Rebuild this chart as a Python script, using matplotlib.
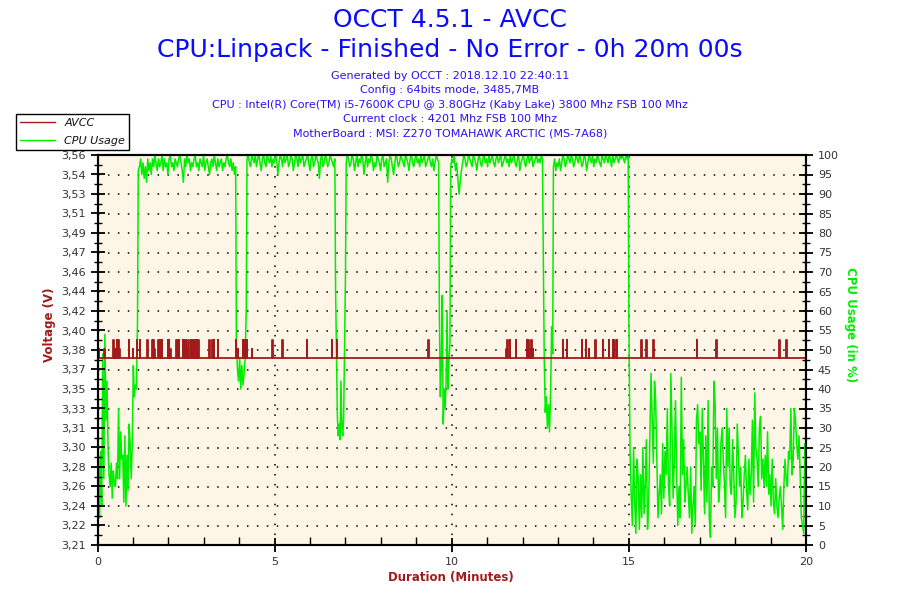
import numpy as np
import matplotlib.pyplot as plt
from matplotlib.lines import Line2D

# CPU usage (%), split into phases of the run
cpu_idle_start = [7, 23, 7, 24, 10, 49, 17, 54, 32, 42, 25, 18, 15, 21, 12, 19, 16, 15, 21, 17,
                  35, 17, 29, 22, 23, 11, 28, 10, 23, 14, 31, 26, 17, 26, 46, 38, 41, 40, 58]
cpu_load1 = [96, 97, 99, 95, 98, 94, 97, 93, 99, 96, 98, 95, 99, 97, 100, 98, 96, 99, 97, 98,
             100, 96, 99, 97, 98, 95, 99, 100, 97, 98, 96, 99, 98, 97, 99, 100, 98, 96, 93, 99,
             97, 100, 98, 99, 96, 98, 97, 99, 100, 97, 98, 96, 99, 98, 97, 100, 96, 98, 99, 97,
             95, 98, 99, 97, 100, 98, 96, 99, 97, 98, 99, 96, 98, 97, 99, 100, 98, 97, 99, 96,
             98, 95, 97]
cpu_dip1 = [52, 45, 42, 48, 40, 46, 41, 44, 48, 61]
cpu_load2 = [99, 100, 98, 97, 100, 99, 98, 100, 97, 99, 100, 98, 96, 99, 100, 98, 97, 100, 99, 98,
             100, 97, 99, 98, 100, 99, 95, 98, 100, 99, 97, 100, 98, 99, 100, 97, 98, 100, 99, 96,
             98, 100, 99, 97, 100, 98, 99, 100, 97, 98, 99, 100, 98, 96, 99, 100, 97, 98, 100, 99,
             98, 94, 99, 100, 97, 98, 100, 99, 97, 98, 100, 99, 98, 97, 99]
cpu_dip2 = [66, 49, 33, 28, 31, 27, 42, 30, 28, 33, 52, 69]
cpu_load3 = [98, 100, 99, 97, 98, 100, 99, 96, 98, 100, 97, 99, 98, 100, 99, 95, 98, 100, 97, 99,
             98, 100, 99, 96, 98, 97, 100, 99, 98, 96, 99, 100, 97, 98, 99, 93, 98, 100, 99, 97,
             95, 98, 100, 99, 97, 98, 100, 99, 98, 97, 100, 99, 98, 96, 99, 100, 98, 97, 99, 100,
             98, 99, 97, 100, 98, 99, 100, 97, 98, 99, 100, 98, 97, 99, 96, 98, 100, 99, 98]
cpu_dip3 = [60, 38, 45, 64, 31, 40, 35, 42, 60, 40, 47, 52]
cpu_load4 = [97, 99, 98, 100, 96, 98, 94, 90, 93, 96, 98, 100, 99, 97, 98, 100, 99, 98, 97, 100,
             99, 98, 96, 99, 100, 98, 97, 99, 100, 98, 99, 97, 100, 98, 99, 100, 98, 97, 99, 100,
             98, 99, 100, 97, 98, 99, 100, 98, 99, 97, 100, 98, 99, 100, 98, 97, 99, 100, 96, 98,
             99, 100, 98, 97, 99, 100, 98, 99, 100, 97, 98, 99, 100, 98, 99, 98, 100, 99]
cpu_dip4 = [79, 48, 34, 38, 30, 36, 29, 39, 56, 49]
cpu_load5 = [97, 99, 96, 98, 97, 99, 96, 98, 100, 99, 97, 98, 100, 99, 98, 100, 99, 97, 98, 100,
             99, 98, 100, 99, 97, 98, 100, 99, 96, 98, 100, 99, 98, 100, 97, 99, 98, 100, 99, 98,
             97, 100, 99, 98, 100, 99, 98, 100, 99, 97, 100, 98, 99, 100, 99, 98, 100, 99, 100, 99,
             98, 100, 99, 100]
cpu_idle_end = [58,
                24, 13, 5, 25, 11, 3, 22, 17, 4, 18,
                7, 25, 8, 15, 27, 4, 11, 27, 44, 32,
                21, 42, 37, 22, 7, 13, 18, 8, 26, 12,
                24, 18, 35, 15, 10, 44, 30, 12, 22, 37,
                18, 5, 15, 7, 43, 18, 27, 11, 15, 20,
                13, 7, 20, 3, 10, 15, 5, 32, 36, 26,
                29, 14, 35, 22, 8, 28, 11, 37, 7, 2,
                20, 15, 42, 36, 17, 30, 11, 15, 26, 30,
                22, 16, 7, 35, 20, 30, 15, 13, 27, 18,
                7, 11, 31, 23, 15, 20, 7, 11, 18, 23,
                14, 9, 22, 13, 18, 32, 11, 39, 25, 22,
                15, 30, 33, 17, 22, 15, 23, 15, 29, 13,
                18, 10, 22, 11, 8, 17, 10, 7, 12, 15,
                10, 4, 15, 22, 17, 15, 24, 22, 35, 18,
                22, 35, 32, 26, 22, 28, 18, 7, 5, 3, 26, 22]

cpu_segments = [cpu_idle_start, cpu_load1, cpu_dip1, cpu_load2, cpu_dip2, cpu_load3,
                cpu_dip3, cpu_load4, cpu_dip4, cpu_load5, cpu_idle_end]
# start / end time (minutes) of each phase
seg_start = [0.0, 1.15, 3.92, 4.22, 6.72, 7.02, 9.65, 9.97, 12.58, 12.87, 15.0]
seg_end = [1.13, 3.90, 4.20, 6.70, 7.00, 9.63, 9.95, 12.56, 12.85, 14.98, 20.0]

# AVCC: steady reading plus short spikes (time in minutes, voltage)
avcc_base = 3.378
spike_times = [0.04, 0.19, 0.45, 0.49, 0.54, 0.59, 0.61, 0.88, 0.99, 1.11, 1.20, 1.40, 1.55, 1.57,
               1.60, 1.72, 1.76, 1.81, 1.98, 2.02, 2.05, 2.23, 2.27, 2.30, 2.40, 2.45, 2.49, 2.53,
               2.56, 2.63, 2.66, 2.70, 2.75, 2.80, 2.84, 3.15, 3.24, 3.28, 3.40, 3.90, 3.96, 4.10,
               4.15, 4.21, 4.35, 4.94, 5.22, 5.90, 6.61, 6.76, 9.34, 11.54, 11.57, 11.64, 11.81,
               12.12, 12.16, 12.20, 12.25, 12.29, 13.13, 13.24, 13.67, 13.78, 13.87, 14.05, 14.27,
               14.43, 14.55, 14.59, 14.66, 15.35, 15.49, 15.69, 16.92, 17.47, 19.25, 19.44]
spike_volts = [3.386, 3.386, 3.394, 3.386, 3.394, 3.394, 3.386, 3.394, 3.386, 3.394, 3.394, 3.394,
               3.394, 3.394, 3.386, 3.394, 3.394, 3.394, 3.394, 3.394, 3.386, 3.394, 3.394, 3.394,
               3.394, 3.394, 3.394, 3.386, 3.394, 3.394, 3.394, 3.394, 3.394, 3.394, 3.394, 3.394,
               3.394, 3.394, 3.394, 3.394, 3.386, 3.394, 3.394, 3.394, 3.386, 3.394, 3.394, 3.394,
               3.394, 3.394, 3.394, 3.386, 3.394, 3.394, 3.394, 3.394, 3.394, 3.386, 3.394, 3.386,
               3.394, 3.394, 3.394, 3.394, 3.386, 3.394, 3.394, 3.394, 3.394, 3.394, 3.394, 3.394,
               3.394, 3.394, 3.394, 3.394, 3.394, 3.394]
spike_width = 0.012

volt_labels = ['3,21', '3,22', '3,24', '3,26', '3,28', '3,30', '3,31', '3,33', '3,35', '3,37',
               '3,38', '3,40', '3,42', '3,44', '3,46', '3,47', '3,49', '3,51', '3,53', '3,54', '3,56']
volt_min, volt_max = 3.21, 3.56

header_lines = ['Generated by OCCT : 2018.12.10 22:40:11',
                'Config : 64bits mode, 3485,7MB',
                'CPU : Intel(R) Core(TM) i5-7600K CPU @ 3.80GHz (Kaby Lake) 3800 Mhz FSB 100 Mhz',
                'Current clock : 4201 Mhz FSB 100 Mhz',
                'MotherBoard : MSI: Z270 TOMAHAWK ARCTIC (MS-7A68)']

red = '#a31a1a'
green = '#00ee00'
blue = '#0a0aff'

# build time / value arrays
cpu_t = np.concatenate([np.linspace(s, e, len(v)) for s, e, v in zip(seg_start, seg_end, cpu_segments)])
cpu_v = np.concatenate([np.array(v, dtype=float) for v in cpu_segments])

avcc_t = [0.0]
avcc_v = [avcc_base]
for t, v in zip(spike_times, spike_volts):
    avcc_t += [t, t, t + spike_width, t + spike_width]
    avcc_v += [avcc_base, v, v, avcc_base]
avcc_t.append(20.0)
avcc_v.append(avcc_base)

fig = plt.figure(figsize=(9, 6), dpi=100)
ax2 = fig.add_axes([97.5 / 900, 55 / 600, 708.5 / 900, 390 / 600])
ax = ax2.twinx()
ax2.yaxis.tick_right()
ax2.yaxis.set_label_position('right')
ax.yaxis.tick_left()
ax.yaxis.set_label_position('left')
ax.set_zorder(ax2.get_zorder() + 1)
ax.patch.set_visible(False)
ax2.set_facecolor('#fdf6e7')

# CPU usage on the right scale
ax2.plot(cpu_t, cpu_v, color=green, lw=1.1)
ax2.set_ylim(0, 100)
ax2.set_xlim(0, 20)
ax2.set_yticks(np.arange(0, 101, 5))
ax2.set_yticks(np.arange(2.5, 100, 5), minor=True)
ax2.set_xticks([0, 5, 10, 15, 20])
ax2.set_xticks(np.arange(0, 21, 1), minor=True)
ax2.grid(True, which='major', color='black', linestyle=(0, (1, 5.5)), linewidth=1.1)
ax2.set_axisbelow(True)

# AVCC on the left scale
ax.plot(avcc_t, avcc_v, color=red, lw=1.3)
ax.set_ylim(volt_min, volt_max)
ax.set_yticks(np.linspace(volt_min, volt_max, 21))
ax.set_yticklabels(volt_labels)
ax.set_yticks(np.linspace(volt_min, volt_max, 41)[1::2], minor=True)

for a in (ax, ax2):
    for sp in a.spines.values():
        sp.set_color('black')
        sp.set_linewidth(1.5)
    a.tick_params(which='major', direction='inout', length=10, width=1.3,
                  labelsize=8, labelcolor='#333333')
    a.tick_params(which='minor', direction='inout', length=6, width=1.0)
ax2.tick_params(axis='x', which='minor', direction='in', length=6)

fig.text(0.5, 1 - 20 / 600, 'OCCT 4.5.1 - AVCC', ha='center', va='center', fontsize=18, color=blue)
fig.text(0.5, 1 - 50 / 600, 'CPU:Linpack - Finished - No Error - 0h 20m 00s',
         ha='center', va='center', fontsize=18, color=blue)
for i, line in enumerate(header_lines):
    fig.text(0.5, 1 - (76 + 14.3 * i) / 600, line, ha='center', va='center',
             fontsize=8, color='#2a10f0')

fig.text(50 / 900, 0.5 - 25 / 600, 'Voltage (V)', rotation=90, ha='center', va='center',
         fontsize=8.5, fontweight='bold', color=red)
fig.text(850 / 900, 0.5 - 25 / 600, 'CPU Usage (in %)', rotation=270, ha='center', va='center',
         fontsize=8.5, fontweight='bold', color=green)
fig.text(451 / 900, 1 - 578 / 600, 'Duration (Minutes)', ha='center', va='center',
         fontsize=8.5, fontweight='bold', color=red)

handles = [Line2D([], [], color=red, lw=1), Line2D([], [], color=green, lw=1)]
leg = fig.legend(handles, ['AVCC', 'CPU Usage'], loc='upper left',
                 bbox_to_anchor=(16 / 900, 1 - 114 / 600), borderaxespad=0,
                 fancybox=False, framealpha=1, edgecolor='black', handlelength=3.2,
                 labelspacing=0.75, borderpad=0.35, prop={'style': 'italic', 'size': 8})
leg.get_frame().set_linewidth(1.0)
for txt in leg.get_texts():
    txt.set_color('#111111')

fig.savefig('out.png', dpi=100)
